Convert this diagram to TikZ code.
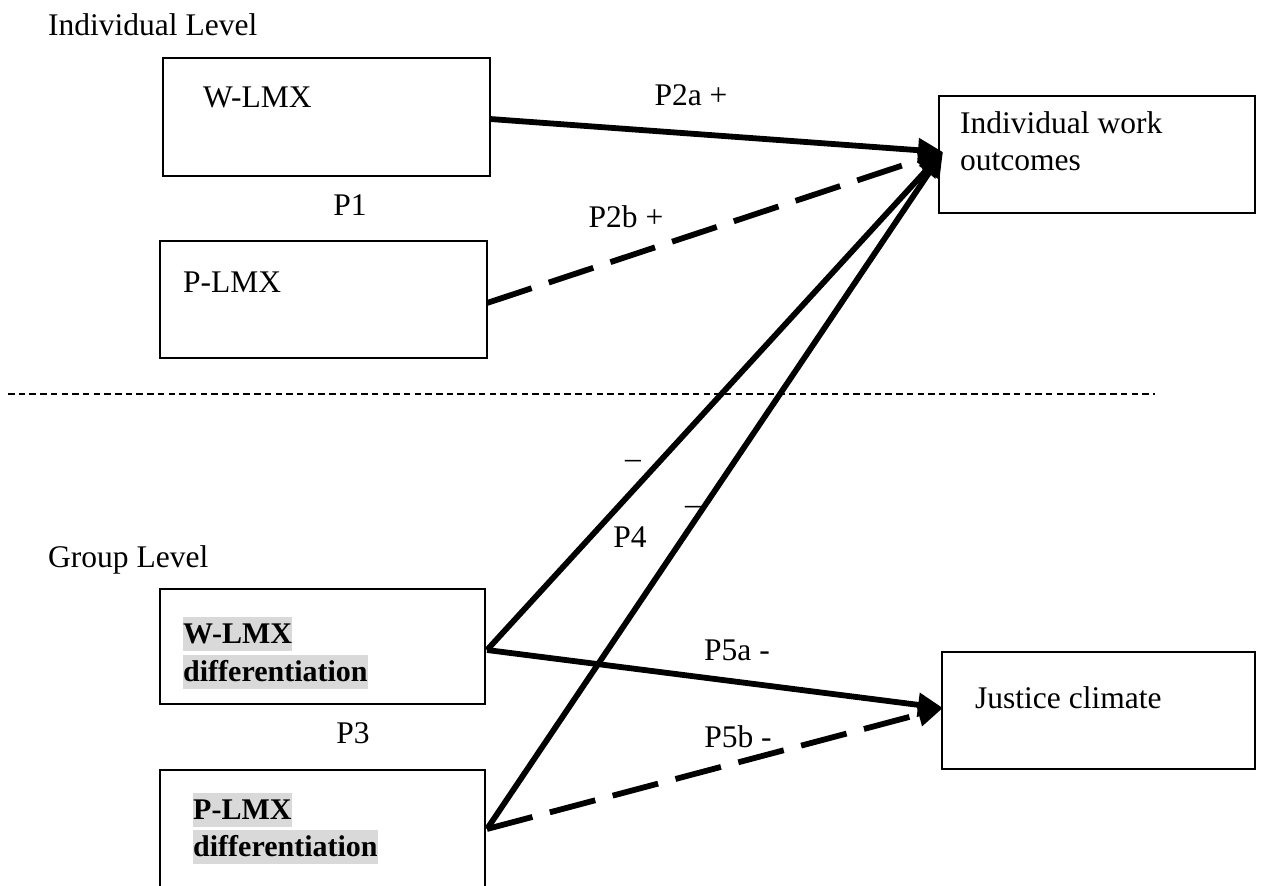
\documentclass[tikz,border=0pt]{standalone}
\usepackage{fontspec}
\setmainfont{Liberation Serif}
\usetikzlibrary{arrows.meta}
\definecolor{hl}{HTML}{D9D9D9}
\begin{document}
\begin{tikzpicture}[x=1pt,y=-1pt,
  box/.style={draw,line width=2.4pt,inner sep=0pt,outer sep=0pt,anchor=north west},
  txt/.style={inner sep=0pt,anchor=west,font=\fontsize{31.5}{38}\selectfont},
  lbl/.style={inner sep=0pt,font=\fontsize{31.5}{38}\selectfont},
  hltxt/.style={fill=hl,inner sep=0pt,anchor=north west,text height=26pt,text depth=8pt,font=\fontsize{30}{37}\selectfont\bfseries},
  solidarr/.style={line width=5.8pt,-{Triangle[length=25pt,width=23pt]}},
  dasharr/.style={line width=5.8pt,dash pattern=on 47pt off 18pt,-{Triangle[length=25pt,width=23pt]}},
  sepline/.style={line width=2.4pt,dash pattern=on 6.5pt off 4.2pt}]
\clip (0,0) rectangle (1262,886);
\fill[white] (0,0) rectangle (1262,886);

% level labels
\node[txt] (lvl1) at (48,25) {Individual Level};
\node[txt] (lvl2) at (48,560) {Group Level};

% boxes
\node[box,minimum width=327pt,minimum height=118pt] (wlmx) at (163,58) {};
\node[box,minimum width=327pt,minimum height=117pt] (plmx) at (160,241) {};
\node[box,minimum width=316pt,minimum height=117pt] (outc) at (939,96) {};
\node[box,minimum width=325pt,minimum height=115pt] (wdiff) at (160,589) {};
\node[box,minimum width=325pt,minimum height=150pt] (pdiff) at (160,770) {};
\node[box,minimum width=313pt,minimum height=117pt] (just) at (942,652) {};

% box texts
\node[txt] (twlmx) at (203,97) {W-LMX};
\node[txt] (tplmx) at (183,282) {P-LMX};
\node[txt] (toutc1) at (960,123) {Individual work};
\node[txt] (toutc2) at (960,162) {outcomes};
\node[txt] (tjust) at (975,698) {Justice climate};
\node[hltxt] (twd1) at (183,617) {W-LMX};
\node[hltxt] (twd2) at (183,655) {differentiation};
\node[hltxt] (tpd1) at (193,793) {P-LMX};
\node[hltxt] (tpd2) at (193,830) {differentiation};

% separator
\coordinate (sepL) at (8,394);
\coordinate (sepR) at (1155,394);
\draw[sepline] (sepL) -- (sepR);

% connector end points
\coordinate (s1) at (490,119);
\coordinate (s2) at (487,303);
\coordinate (s3) at (487,650);
\coordinate (s4) at (487,829);
\coordinate (tipO) at (943,152);
\coordinate (tipJ) at (943,708);

\draw[solidarr] (s1) -- (tipO);
\draw[dasharr] (s2) -- (tipO);
\draw[solidarr] (s3) -- (tipO);
\draw[solidarr] (s4) -- (tipO);
\draw[solidarr] (s3) -- (tipJ);
\draw[dasharr] (s4) -- (tipJ);

% labels
\node[lbl] (p1) at (350,205) {P1};
\node[lbl] (p3) at (353,733) {P3};
\node[lbl] (p2a) at (691,95) {P2a +};
\node[lbl] (p2b) at (626,217) {P2b +};
\node[lbl] (p5a) at (737,650) {P5a -};
\node[lbl] (p5b) at (738,737) {P5b -};
\node[lbl] (m1) at (633,464) {–};
\node[lbl] (m2) at (693,510) {–};
\node[lbl] (p4) at (630,537) {P4};
\end{tikzpicture}
\end{document}
